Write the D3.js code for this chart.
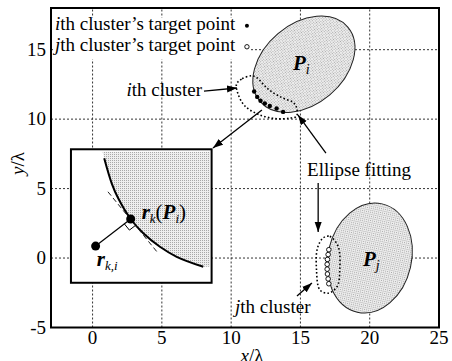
<!DOCTYPE html>
<html>
<head>
<meta charset="utf-8">
<script src="https://cdn.jsdelivr.net/npm/d3@7"></script>
<style>
  html, body { margin: 0; padding: 0; background: #fff; }
  svg { display: block; }
</style>
</head>
<body>
<svg id="chart" width="452" height="361"></svg>
<script>
// Axis ranges and tick values (units of wavelength)
const xDomain = [-3, 25];
const yDomain = [-5, 18];
const xTicks = [0, 5, 10, 15, 20, 25];
const yTicks = [-5, 0, 5, 10, 15];
const xGrid = [0, 5, 10, 15, 20];
const yGrid = [0, 5, 10, 15];

// Fitted ellipses: centre, semi-axes and tilt of the major axis (degrees)
const ellipses = [
  { id: "Pi", cx: 15.25, cy: 13.95, a: 4.15, b: 2.89, angle: 40.2 },
  { id: "Pj", cx: 20.0, cy: 0.0, a: 4.01, b: 3.01, angle: 77.1 }
];

// Target points of the i-th cluster (filled) and j-th cluster (open)
const clusterIx = [11.66, 11.88, 12.12, 12.43, 12.79, 13.28, 13.75];
const clusterIy = [11.99, 11.60, 11.32, 11.13, 10.95, 10.77, 10.52];
const clusterJx = [17.05, 17.0, 16.95, 16.93, 16.93, 16.95, 17.0, 17.05];
const clusterJy = [0.6, 0.25, -0.1, -0.45, -0.8, -1.15, -1.5, -1.85];

// Dotted outlines around each cluster
const loopIx = [11.47, 10.75, 10.39, 10.5, 10.99, 11.95, 13.15, 14.24, 14.72, 14.72, 14.47, 13.64, 12.67, 11.83];
const loopIy = [13.12, 12.88, 12.52, 11.8, 10.95, 10.35, 10.04, 10.07, 10.21, 10.84, 11.2, 11.56, 12.16, 13.0];
const loopJx = [16.64, 17.12, 17.72, 17.84, 17.65, 17.0, 16.4, 16.16, 16.23];
const loopJy = [1.45, 1.56, 0.84, -0.85, -2.05, -2.53, -2.29, -0.85, 0.72];

// Magnified view: boundary arc, tangent, and the two points
const insetBox = { x0: -1.56, x1: 8.59, y0: -1.78, y1: 7.83 };
const arcX = [0.84, 1.38, 1.85, 2.75, 3.66, 4.86, 6.07, 7.99];
const arcY = [7.18, 5.38, 4.30, 2.81, 1.78, 0.81, 0.09, -0.63];
const tangentX = [1.11, 4.72];
const tangentY = [4.77, 0.36];
const rki = [0.22, 0.86];
const rkP = [2.75, 2.81];

// Annotation arrows [x0, y0, x1, y1]
const arrows = [
  [8.04, 12.02, 10.42, 12.24],
  [12.22, 10.66, 8.69, 7.92],
  [16.84, 7.56, 14.82, 10.3],
  [16.28, 5.4, 16.28, 1.87],
  [14.75, -2.74, 15.83, -1.8]
];

const svg = d3.select("#chart");
const x = d3.scaleLinear().domain(xDomain).range([51, 439]);
const y = d3.scaleLinear().domain(yDomain).range([327.5, 8]);
const sx = (x(1) - x(0));
const sy = (y(0) - y(1));

const defs = svg.append("defs");
// stippled fill for the ellipse interiors
const pat = defs.append("pattern").attr("id", "stipple")
  .attr("patternUnits", "userSpaceOnUse").attr("width", 2).attr("height", 2);
pat.append("rect").attr("width", 2).attr("height", 2).attr("fill", "#eeeeee");
pat.append("rect").attr("width", 1).attr("height", 1).attr("fill", "#a8a8a8");

defs.append("marker").attr("id", "head")
  .attr("markerUnits", "userSpaceOnUse")
  .attr("viewBox", "0 0 10 8").attr("refX", 10).attr("refY", 4)
  .attr("markerWidth", 10).attr("markerHeight", 8).attr("orient", "auto")
  .append("path").attr("d", "M0,0.5 L10,4 L0,7.5 Z").attr("fill", "#000");

// plot background
svg.append("rect").attr("x", x(xDomain[0])).attr("y", y(yDomain[1]))
  .attr("width", x(xDomain[1]) - x(xDomain[0])).attr("height", y(yDomain[0]) - y(yDomain[1]))
  .attr("fill", "#fff");

// dotted grid
const grid = svg.append("g").attr("stroke", "#333").attr("stroke-width", 1).attr("stroke-dasharray", "2,2");
grid.selectAll(".gx").data(xGrid).join("line")
  .attr("x1", d => x(d)).attr("x2", d => x(d))
  .attr("y1", y(yDomain[0])).attr("y2", y(yDomain[1]));
grid.selectAll(".gy").data(yGrid).join("line")
  .attr("y1", d => y(d)).attr("y2", d => y(d))
  .attr("x1", x(xDomain[0])).attr("x2", x(xDomain[1]));

// legend
svg.append("rect").attr("x", x(-2.75)).attr("y", y(17.3))
  .attr("width", x(11.4) - x(-2.75)).attr("height", y(14.3) - y(17.3)).attr("fill", "#fff");
const legend = svg.append("g").attr("font-size", 19);
const l1 = legend.append("text").attr("x", x(-2.71)).attr("y", y(16.41));
l1.append("tspan").attr("font-style", "italic").text("i");
l1.append("tspan").text("th cluster\u2019s target point");
const l2 = legend.append("text").attr("x", x(-2.71)).attr("y", y(14.9));
l2.append("tspan").attr("font-style", "italic").text("j");
l2.append("tspan").text("th cluster\u2019s target point");
legend.append("circle").attr("cx", x(11.14)).attr("cy", y(16.72)).attr("r", 2).attr("fill", "#000");
legend.append("circle").attr("cx", x(11.14)).attr("cy", y(15.21)).attr("r", 2.2)
  .attr("fill", "#fff").attr("stroke", "#000").attr("stroke-width", 0.9);

// fitted ellipses
svg.selectAll(".ell").data(ellipses).join("ellipse")
  .attr("cx", d => x(d.cx)).attr("cy", d => y(d.cy))
  .attr("rx", d => d.a * sx).attr("ry", d => d.b * sy)
  .attr("transform", d => `rotate(${-d.angle},${x(d.cx)},${y(d.cy)})`)
  .attr("fill", "url(#stipple)").attr("stroke", "#222").attr("stroke-width", 1);

// cluster outlines
const loopLine = d3.line().x(d => x(d[0])).y(d => y(d[1])).curve(d3.curveCatmullRomClosed.alpha(0.5));
[[loopIx, loopIy], [loopJx, loopJy]].forEach(([lx, ly]) => {
  svg.append("path").attr("d", loopLine(d3.zip(lx, ly)))
    .attr("fill", "none").attr("stroke", "#000").attr("stroke-width", 1.6)
    .attr("stroke-dasharray", "1.6,2.2");
});

// cluster target points
svg.selectAll(".pi").data(d3.zip(clusterIx, clusterIy)).join("circle")
  .attr("cx", d => x(d[0])).attr("cy", d => y(d[1])).attr("r", 2.2).attr("fill", "#000");
svg.selectAll(".pj").data(d3.zip(clusterJx, clusterJy)).join("circle")
  .attr("cx", d => x(d[0])).attr("cy", d => y(d[1])).attr("r", 2.3)
  .attr("fill", "#fff").attr("stroke", "#000").attr("stroke-width", 0.9);

// ellipse labels
function ellLabel(px, py, sub) {
  const t = svg.append("text").attr("x", x(px)).attr("y", y(py)).attr("font-size", 21);
  t.append("tspan").attr("font-weight", "bold").attr("font-style", "italic").text("P");
  t.append("tspan").attr("font-style", "italic").attr("font-size", 14).attr("dy", 4).text(sub);
}
ellLabel(14.46, 13.54, "i");
ellLabel(19.51, -0.58, "j");

// text annotations
const ann = svg.append("g").attr("font-size", 19);
const a1 = ann.append("text").attr("x", x(7.9)).attr("y", y(11.66)).attr("text-anchor", "end");
a1.append("tspan").attr("font-style", "italic").text("i");
a1.append("tspan").text("th cluster");
const a2 = ann.append("text").attr("x", x(10.28)).attr("y", y(-3.96));
a2.append("tspan").attr("font-style", "italic").text("j");
a2.append("tspan").text("th cluster");
ann.append("text").attr("x", x(19.23)).attr("y", y(5.9)).attr("text-anchor", "middle").text("Ellipse fitting");

// arrows
svg.selectAll(".arr").data(arrows).join("line")
  .attr("x1", d => x(d[0])).attr("y1", d => y(d[1]))
  .attr("x2", d => x(d[2])).attr("y2", d => y(d[3]))
  .attr("stroke", "#000").attr("stroke-width", 1.3).attr("marker-end", "url(#head)");

// magnified view
const inset = svg.append("g");
inset.append("rect").attr("x", x(insetBox.x0)).attr("y", y(insetBox.y1))
  .attr("width", x(insetBox.x1) - x(insetBox.x0)).attr("height", y(insetBox.y0) - y(insetBox.y1))
  .attr("fill", "#fff");
const arcLine = d3.line().x(d => x(d[0])).y(d => y(d[1])).curve(d3.curveCatmullRom.alpha(0.5));
const arcPts = d3.zip(arcX, arcY);
const arcPath = arcLine(arcPts);
const topY = insetBox.y1 - 0.18, rightX = insetBox.x1 - 0.12;
const shade = `M${x(0.72)},${y(topY)}L` + arcPath.slice(1) +
  `L${x(rightX)},${y(arcY[arcY.length - 1])}L${x(rightX)},${y(topY)}Z`;
inset.append("path").attr("d", shade).attr("fill", "url(#stipple)");
inset.append("path").attr("d", arcPath).attr("fill", "none").attr("stroke", "#000").attr("stroke-width", 2);
inset.append("line")
  .attr("x1", x(tangentX[0])).attr("y1", y(tangentY[0]))
  .attr("x2", x(tangentX[1])).attr("y2", y(tangentY[1]))
  .attr("stroke", "#222").attr("stroke-width", 1).attr("stroke-dasharray", "5,3");
inset.append("line")
  .attr("x1", x(rki[0])).attr("y1", y(rki[1])).attr("x2", x(rkP[0])).attr("y2", y(rkP[1]))
  .attr("stroke", "#000").attr("stroke-width", 1.2);

// right-angle mark where the normal meets the boundary
{
  const P = [x(rkP[0]), y(rkP[1])];
  const Q = [x(rki[0]), y(rki[1])];
  const T = [x(tangentX[1]) - x(tangentX[0]), y(tangentY[1]) - y(tangentY[0])];
  const tl = Math.hypot(T[0], T[1]);
  const t = [T[0] / tl, T[1] / tl];
  const nl = Math.hypot(Q[0] - P[0], Q[1] - P[1]);
  const n = [(Q[0] - P[0]) / nl, (Q[1] - P[1]) / nl];
  const s = 8;
  const A = [P[0] + s * n[0], P[1] + s * n[1]];
  const B = [A[0] + s * t[0], A[1] + s * t[1]];
  const C = [P[0] + s * t[0], P[1] + s * t[1]];
  inset.append("path").attr("d", `M${A}L${B}L${C}`)
    .attr("fill", "none").attr("stroke", "#000").attr("stroke-width", 1);
}
inset.selectAll(".big").data([rki, rkP]).join("circle")
  .attr("cx", d => x(d[0])).attr("cy", d => y(d[1])).attr("r", 4.5).attr("fill", "#000");
inset.append("rect").attr("x", x(insetBox.x0)).attr("y", y(insetBox.y1))
  .attr("width", x(insetBox.x1) - x(insetBox.x0)).attr("height", y(insetBox.y0) - y(insetBox.y1))
  .attr("fill", "none").attr("stroke", "#000").attr("stroke-width", 2);

const t1 = inset.append("text").attr("x", x(3.54)).attr("y", y(2.81)).attr("font-size", 21);
t1.append("tspan").attr("font-weight", "bold").attr("font-style", "italic").text("r");
t1.append("tspan").attr("font-style", "italic").attr("font-size", 13).attr("dy", 4).text("k");
t1.append("tspan").attr("dy", -4).text("(");
t1.append("tspan").attr("font-weight", "bold").attr("font-style", "italic").text("P");
t1.append("tspan").attr("font-style", "italic").attr("font-size", 13).attr("dy", 4).text("i");
t1.append("tspan").attr("dy", -4).text(")");
const t2 = inset.append("text").attr("x", x(0.3)).attr("y", y(-0.58)).attr("font-size", 21);
t2.append("tspan").attr("font-weight", "bold").attr("font-style", "italic").text("r");
t2.append("tspan").attr("font-style", "italic").attr("font-size", 13).attr("dy", 4).text("k,i");

// frame
svg.append("rect").attr("x", x(xDomain[0])).attr("y", y(yDomain[1]))
  .attr("width", x(xDomain[1]) - x(xDomain[0])).attr("height", y(yDomain[0]) - y(yDomain[1]))
  .attr("fill", "none").attr("stroke", "#000").attr("stroke-width", 2);

// tick labels
const tl = svg.append("g").attr("font-size", 19);
tl.selectAll(".xt").data(xTicks).join("text")
  .attr("x", d => x(d)).attr("y", 344).attr("text-anchor", "middle").text(d => d);
tl.selectAll(".yt").data(yTicks).join("text")
  .attr("x", 46).attr("y", d => y(d) + 6).attr("text-anchor", "end").text(d => d);

// axis titles
const xt = svg.append("text").attr("x", x(11.5)).attr("y", 362).attr("text-anchor", "middle")
  .attr("font-size", 19);
xt.append("tspan").attr("font-style", "italic").text("x");
xt.append("tspan").text("/\u03bb");
const yt = svg.append("text").attr("transform", `translate(24,${y(6.8)}) rotate(-90)`)
  .attr("text-anchor", "middle").attr("font-size", 19);
yt.append("tspan").attr("font-style", "italic").text("y");
yt.append("tspan").text("/\u03bb");

// serif face for every label
svg.selectAll("text").style("font-family", '"Liberation Serif"');
</script>
</body>
</html>
